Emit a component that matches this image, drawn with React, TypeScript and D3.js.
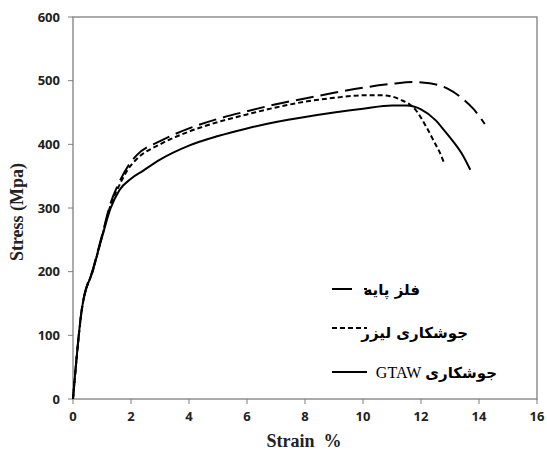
import React from 'react';
import * as d3 from 'd3';

// strain (%) / stress (MPa)
const baseStrain = [0, 0.3, 0.7, 1.0, 1.3, 1.6, 1.9, 2.2, 3, 4, 5, 6, 7, 8, 9, 10, 11, 11.7, 12.3, 12.9, 13.4, 13.8, 14.2];
const baseStress = [0, 140, 206, 257, 308, 341, 366, 383, 405, 425, 440, 452, 463, 472, 481, 489, 495, 498, 496, 488, 473, 456, 432];

const laserStrain = [0, 0.3, 0.7, 1.0, 1.3, 1.6, 1.9, 2.2, 3, 4, 5, 6, 7, 8, 9, 10, 10.7, 11.3, 11.8, 12.2, 12.5, 12.65, 12.8];
const laserStress = [0, 138, 204, 255, 305, 336, 361, 377, 400, 420, 435, 447, 458, 467, 473, 477, 477, 470, 455, 426, 400, 387, 370];

const gtawStrain = [0, 0.3, 0.7, 1.0, 1.3, 1.6, 2.0, 2.4, 3, 4, 5, 6, 7, 8, 9, 10, 11, 11.5, 12, 12.5, 12.8, 13.1, 13.4, 13.7];
const gtawStress = [0, 140, 204, 254, 300, 328, 346, 358, 376, 398, 413, 425, 435, 443, 450, 456, 461, 461, 455, 438, 422, 405, 386, 360];

const xTicks = [0, 2, 4, 6, 8, 10, 12, 14, 16];
const yTicks = [0, 100, 200, 300, 400, 500, 600];

const series = [
  { label: 'فلز پایه', xs: baseStrain, ys: baseStress, dash: '18,7' },
  { label: 'جوشکاری لیزر', xs: laserStrain, ys: laserStress, dash: '5,3' },
  { label: 'جوشکاری', xs: gtawStrain, ys: gtawStress, dash: '' },
];

const W = 547;
const H = 452;
const margin = { left: 73, right: 10, top: 17, bottom: 53 };

const App: React.FC = () => {
  const x = d3.scaleLinear().domain([0, 16]).range([margin.left, W - margin.right]);
  const y = d3.scaleLinear().domain([0, 600]).range([H - margin.bottom, margin.top]);

  const line = d3.line<[number, number]>()
    .x(d => x(d[0]))
    .y(d => y(d[1]))
    .curve(d3.curveMonotoneX);

  const tickFont = '"Open Sans", "DejaVu Sans", sans-serif';
  const serif = '"Liberation Serif", "DejaVu Serif", serif';
  const arabic = '"DejaVu Sans", sans-serif';

  // legend rows
  const legend = [
    { y: 289, textY: 295, right: 420, dash: '20,12' },
    { y: 328, textY: 338, right: 468, dash: '5,3' },
    { y: 372, textY: 378, right: 497, dash: '' },
  ];

  return (
    <div style={{ position: 'absolute', left: 0, top: 0 }}>
      <svg width={W} height={H} style={{ display: 'block', background: '#fff' }}>
        {/* frame */}
        <rect x={x(0)} y={y(600)} width={x(16) - x(0)} height={y(0) - y(600)}
          fill="none" stroke="#7f7f7f" strokeWidth={1.3} />

        {/* x ticks */}
        {xTicks.map(t => (
          <g key={'x' + t}>
            <line x1={x(t)} x2={x(t)} y1={y(0)} y2={y(0) + 5} stroke="#7f7f7f" strokeWidth={1} />
            <text x={x(t)} y={y(0) + 22} textAnchor="middle" fontFamily={tickFont}
              fontWeight="bold" fontSize={13} fill="#222">{t}</text>
          </g>
        ))}

        {/* y ticks */}
        {yTicks.map(t => (
          <g key={'y' + t}>
            <line x1={x(0) - 5} x2={x(0)} y1={y(t)} y2={y(t)} stroke="#7f7f7f" strokeWidth={1} />
            <text x={x(0) - 13} y={y(t) + 4.5} textAnchor="end" fontFamily={tickFont}
              fontWeight="bold" fontSize={13} fill="#222">{t}</text>
          </g>
        ))}

        {/* axis titles */}
        <text x={304} y={447} textAnchor="middle" fontFamily={serif} fontWeight="bold"
          fontSize={18} fill="#222" style={{ whiteSpace: 'pre' }}>{'Strain  %'}</text>
        <text transform={`translate(23,${(y(0) + y(600)) / 2 + 4}) rotate(-90)`} textAnchor="middle"
          fontFamily={serif} fontWeight="bold" fontSize={18} fill="#222">Stress (Mpa)</text>

        {/* curves */}
        {series.map((s, i) => (
          <path key={i} d={line(s.xs.map((v, j) => [v, s.ys[j]] as [number, number])) || ''}
            fill="none" stroke="#000" strokeWidth={2} strokeDasharray={s.dash || undefined} />
        ))}

        {/* legend */}
        {legend.map((l, i) => (
          <g key={'l' + i}>
            <line x1={332} x2={367} y1={l.y} y2={l.y} stroke="#000" strokeWidth={2}
              strokeDasharray={l.dash || undefined} />
            <text x={l.right} y={l.textY} direction="rtl" textAnchor="start"
              fontFamily={arabic} fontWeight="bold" fontSize={15} fill="#000">
              {series[i].label}
              {i === 2 && (
                <tspan fontFamily={serif} fontWeight="normal" fontSize={16}>{' GTAW'}</tspan>
              )}
            </text>
          </g>
        ))}
      </svg>
    </div>
  );
};

export default App;
